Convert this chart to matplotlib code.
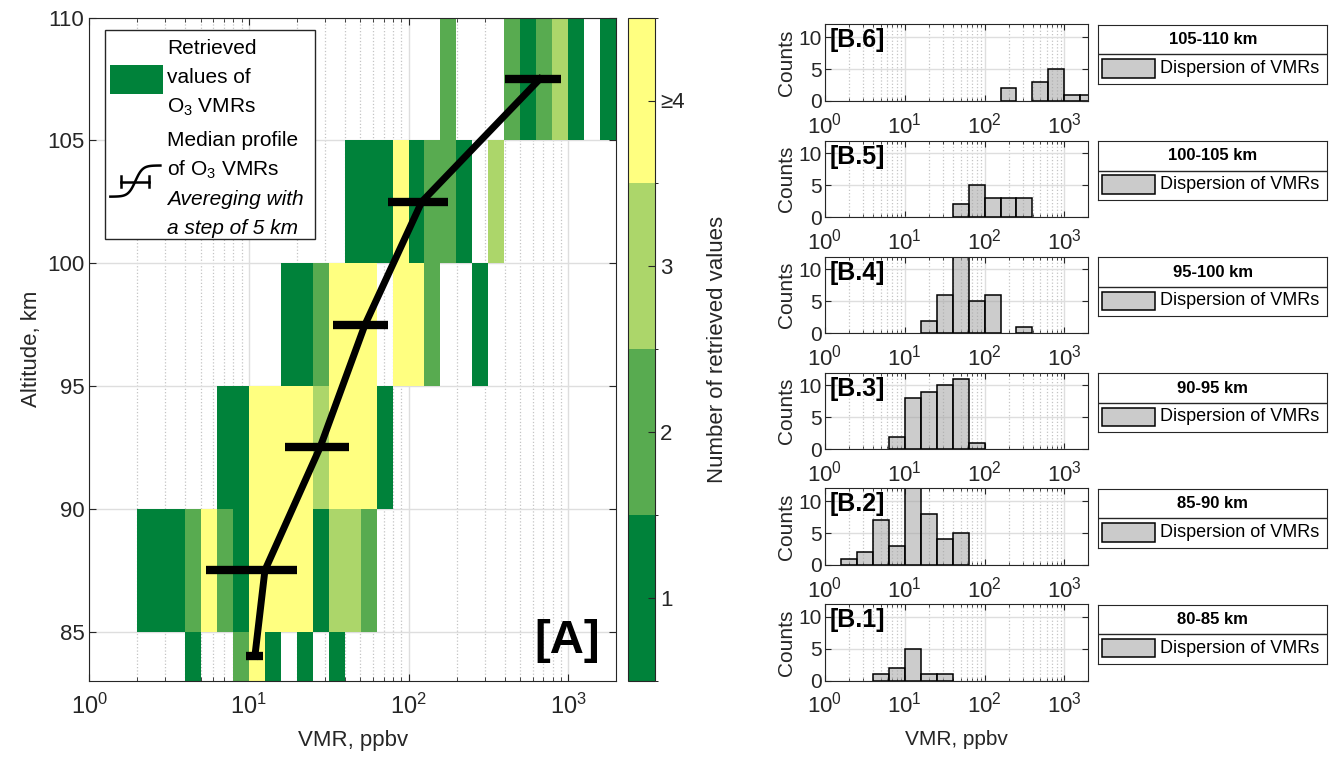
import numpy as np
import matplotlib
matplotlib.use('Agg')
import matplotlib.pyplot as plt
from matplotlib.colors import ListedColormap, BoundaryNorm
from matplotlib.cm import ScalarMappable
from matplotlib.patches import Rectangle
from matplotlib.ticker import LogLocator, NullFormatter

plt.rcParams['font.family'] = ['Liberation Sans', 'DejaVu Sans']
plt.rcParams['mathtext.fontset'] = 'custom'
plt.rcParams['mathtext.rm'] = 'Liberation Sans'
plt.rcParams['mathtext.it'] = 'Liberation Sans:italic'
plt.rcParams['mathtext.bf'] = 'Liberation Sans:bold'

# altitude layers, km
layer_edges = [80, 85, 90, 95, 100, 105, 110]
layer_names = ['80-85 km', '85-90 km', '90-95 km', '95-100 km', '100-105 km', '105-110 km']
panel_tags = ['[B.1]', '[B.2]', '[B.3]', '[B.4]', '[B.5]', '[B.6]']

# number of retrieved values in 0.1-decade VMR bins (bin i = 10^(i/10) .. 10^((i+1)/10))
counts_80_85   = [0,0,0,0,0,0,1,0,0,2,  4,1,0,1,0,1,0,0,0,0,  0,0,0,0,0,0,0,0,0,0,  0,0,0]
counts_85_90   = [0,0,0,1,1,1,2,5,2,1,  6,6,4,4,1,3,3,2,0,0,  0,0,0,0,0,0,0,0,0,0,  0,0,0]
counts_90_95   = [0,0,0,0,0,0,0,0,1,1,  4,4,4,5,3,7,5,6,1,0,  0,0,0,0,0,0,0,0,0,0,  0,0,0]
counts_95_100  = [0,0,0,0,0,0,0,0,0,0,  0,0,1,1,2,4,6,7,0,5,  4,2,0,0,1,0,0,0,0,0,  0,0,0]
counts_100_105 = [0,0,0,0,0,0,0,0,0,0,  0,0,0,0,0,0,1,1,1,4,  1,2,2,1,0,3,0,0,0,0,  0,0,0]
counts_105_110 = [0,0,0,0,0,0,0,0,0,0,  0,0,0,0,0,0,0,0,0,0,  0,0,2,0,0,0,2,1,2,3,  1,0,1]

# median profile with spread, ppbv
median_alt = [84.0, 87.5, 92.5, 97.5, 102.5, 107.5]
median_vmr = [10.9, 12.6, 27.9, 53.4, 121, 665]
vmr_low = [9.6, 5.4, 16.8, 33.5, 74.8, 403]
vmr_high = [12.2, 19.9, 42.6, 74.8, 178, 900]

level_colors = ['#00823a', '#58ab50', '#acd66a', '#ffff80']

counts = np.array([counts_80_85, counts_85_90, counts_90_95,
                   counts_95_100, counts_100_105, counts_105_110])
fine_edges = 10 ** (np.arange(counts.shape[1] + 1) * 0.1)
coarse_edges = 10 ** (np.arange(18) * 0.2)
xmax = 10 ** 3.3

W, H = 1333, 761
fig = plt.figure(figsize=(W / 100, H / 100), dpi=100)

def box(x0, y0, x1, y1):
    return [x0 / W, 1 - y1 / H, (x1 - x0) / W, (y1 - y0) / H]

spine_col = '#262626'
grid_maj = '#dedede'
grid_min = '#c4c4c4'

def log_axis(a):
    a.set_xscale('log')
    a.xaxis.set_major_locator(LogLocator(base=10, numticks=20))
    a.xaxis.set_minor_locator(LogLocator(base=10, subs=np.arange(2, 10), numticks=40))
    a.xaxis.set_minor_formatter(NullFormatter())
    a.set_xlim(1, xmax)

# ---- panel A ----
ax = fig.add_axes(box(89.3, 17.6, 616, 680.8))
cmap = ListedColormap(level_colors)
norm = BoundaryNorm([0.5, 1.5, 2.5, 3.5, 4.5], cmap.N)
shown = np.ma.masked_equal(np.clip(counts, 0, 4), 0)
ax.pcolormesh(fine_edges, layer_edges, shown, cmap=cmap, norm=norm)

med = np.array(median_vmr)
ax.errorbar(med, median_alt, xerr=[med - np.array(vmr_low), np.array(vmr_high) - med],
            color='k', lw=5, elinewidth=6, capsize=0, zorder=3)

log_axis(ax)
ax.set_ylim(83, 110)
ax.set_yticks([85, 90, 95, 100, 105, 110])
ax.set_axisbelow(True)
ax.grid(True, which='major', color=grid_maj, lw=1)
ax.grid(True, which='minor', axis='x', color=grid_min, ls=':', lw=0.9)
ax.tick_params(which='both', direction='in', top=True, right=True, labelsize=16, colors=spine_col)
ax.tick_params(which='major', length=5)
ax.tick_params(which='minor', length=3)
ax.tick_params(axis='x', labelsize=17, pad=9)
for s in ax.spines.values():
    s.set_color(spine_col)
ax.set_xlabel('VMR, ppbv', fontsize=16, color=spine_col, labelpad=8)
ax.set_ylabel('Altitude, km', fontsize=16, color=spine_col, labelpad=4)
ax.text(0.907, 0.06, '[A]', transform=ax.transAxes, fontsize=34, fontweight='bold',
        ha='center', va='center')

# legend of panel A
tr = ax.transAxes
ax.add_patch(Rectangle((0.029, 0.666), 0.399, 0.315, transform=tr, facecolor='white',
                       edgecolor=spine_col, lw=1, zorder=5))
ax.add_patch(Rectangle((0.040, 0.885), 0.099, 0.044, transform=tr, facecolor=level_colors[0],
                       edgecolor='none', zorder=6))
t = np.linspace(0, 1, 60)
ax.plot(0.040 + 0.095 * t, 0.730 + 0.047 * (0.5 + 0.5 * np.tanh((t - 0.5) * 7)),
        color='k', lw=1.8, transform=tr, zorder=6)
ax.plot([0.061, 0.114], [0.7526, 0.7526], color='k', lw=1.8, transform=tr, zorder=6)
for xc in (0.061, 0.114):
    ax.plot([xc, xc], [0.7446, 0.7606], color='k', lw=1.8, transform=tr, zorder=6)
leg_lines = [('Retrieved', 0.956, 'normal'), ('values of', 0.912, 'normal'),
             ('O$_3$ VMRs', 0.867, 'normal'), ('Median profile', 0.818, 'normal'),
             ('of O$_3$ VMRs', 0.773, 'normal'), ('Avereging with', 0.728, 'italic'),
             ('a step of 5 km', 0.685, 'italic')]
for txt, yc, style in leg_lines:
    ax.text(0.1475, yc - 0.011, txt, transform=tr, fontsize=15, fontstyle=style,
            ha='left', va='baseline', zorder=7)

# colorbar
cax = fig.add_axes(box(628, 17.6, 655, 680.8))
cb = fig.colorbar(ScalarMappable(norm=norm, cmap=cmap), cax=cax, ticks=[1, 2, 3, 4])
cb.ax.set_yticklabels(['1', '2', '3', '≥4'])
cb.ax.tick_params(direction='in', length=5, labelsize=16, colors=spine_col)
cb.outline.set_edgecolor(spine_col)
cb.set_label('Number of retrieved values', fontsize=16, labelpad=16, color=spine_col)

# ---- panels B ----
tops = [604.0, 488.3, 372.7, 256.7, 140.5, 24.3]
for k in range(6):
    top = tops[k]
    hx = fig.add_axes(box(825, top, 1088.3, top + 76.7))
    hist = np.append(counts[k], 0).reshape(-1, 2).sum(axis=1)
    nz = hist > 0
    left = coarse_edges[:-1][nz]
    right = coarse_edges[1:][nz]
    hx.bar(left, hist[nz], width=right - left, align='edge',
           facecolor=(0.64, 0.64, 0.64, 0.55), edgecolor='k', lw=1.1)
    log_axis(hx)
    hx.set_ylim(0, 12)
    hx.set_yticks([0, 5, 10])
    hx.set_axisbelow(True)
    hx.grid(True, which='major', color=grid_maj, lw=1)
    hx.grid(True, which='minor', axis='x', color=grid_min, ls=':', lw=0.9)
    hx.tick_params(which='both', direction='in', top=True, right=True, labelsize=15,
                   colors=spine_col, pad=2)
    hx.tick_params(axis='x', labelsize=16, pad=8)
    hx.tick_params(which='major', length=4)
    hx.tick_params(which='minor', length=2)
    for s in hx.spines.values():
        s.set_color(spine_col)
    hx.set_ylabel('Counts', fontsize=15, color=spine_col, labelpad=2)
    hx.text(0.019, 0.79, panel_tags[k], transform=hx.transAxes, fontsize=18,
            fontweight='bold', ha='left', va='center')
    if k == 0:
        hx.set_xlabel('VMR, ppbv', fontsize=15, color=spine_col, labelpad=9)

    # legend box
    lx = fig.add_axes(box(1098.3, top + 0.7, 1327.3, top + 59.7))
    lx.set_xticks([])
    lx.set_yticks([])
    lx.set_xlim(0, 1)
    lx.set_ylim(0, 1)
    for s in lx.spines.values():
        s.set_color(spine_col)
    lx.axhline(0.503, color=spine_col, lw=1)
    lx.text(0.5, 0.752, layer_names[k], fontsize=12, fontweight='bold', ha='center', va='center')
    lx.add_patch(Rectangle((0.016, 0.107), 0.232, 0.312, facecolor='#cbcbcb',
                           edgecolor='k', lw=1.1))
    lx.text(0.27, 0.263, 'Dispersion of VMRs', fontsize=13, ha='left', va='center')

fig.savefig('out.png', dpi=100)
